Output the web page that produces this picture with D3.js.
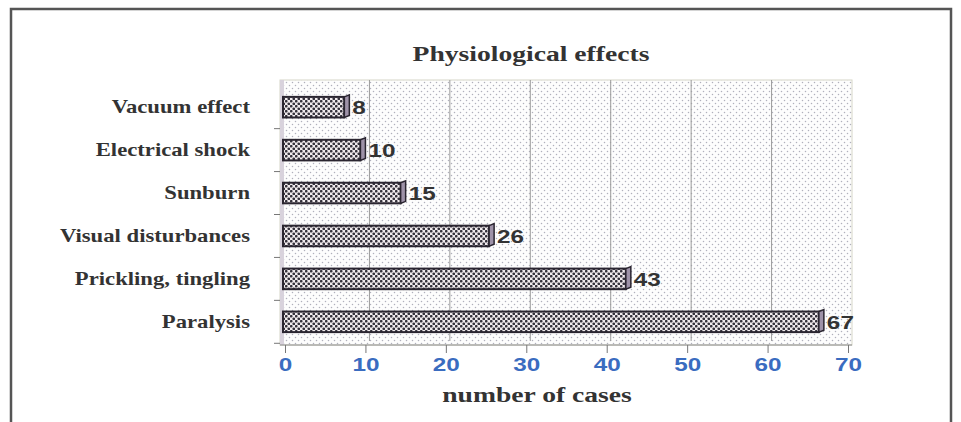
<!DOCTYPE html>
<html lang="en">
<head>
<meta charset="UTF-8">
<title>Physiological effects</title>
<script src="https://d3js.org/d3.v7.min.js"></script>
<style>
  body { margin: 0; background: #fff; }
</style>
</head>
<body>
<script>
// data
var categories = ["Vacuum effect", "Electrical shock", "Sunburn", "Visual disturbances", "Prickling, tingling", "Paralysis"];
var cases = [8, 10, 15, 26, 43, 67];
var xTicks = [0, 10, 20, 30, 40, 50, 60, 70];

var W = 961, H = 422;
var svg = d3.select("body").append("svg")
    .attr("width", W)
    .attr("height", H);

var defs = svg.append("defs");

// dotted background of the plot area
var bgPat = defs.append("pattern")
    .attr("id", "bgdots")
    .attr("width", 6).attr("height", 6)
    .attr("patternUnits", "userSpaceOnUse");
bgPat.append("rect").attr("width", 6).attr("height", 6).attr("fill", "#fdfdfd");
bgPat.append("circle").attr("cx", 1.5).attr("cy", 1.5).attr("r", 0.75).attr("fill", "#b0b0bc");
bgPat.append("circle").attr("cx", 4.5).attr("cy", 4.5).attr("r", 0.75).attr("fill", "#b0b0bc");

// dense dotted fill of the bars
var barPat = defs.append("pattern")
    .attr("id", "bardots")
    .attr("width", 5).attr("height", 5)
    .attr("patternUnits", "userSpaceOnUse");
barPat.append("rect").attr("width", 5).attr("height", 5).attr("fill", "#f1ebee");
barPat.append("circle").attr("cx", 1.25).attr("cy", 1.25).attr("r", 1.35).attr("fill", "#35323c");
barPat.append("circle").attr("cx", 3.75).attr("cy", 3.75).attr("r", 1.35).attr("fill", "#35323c");

// outer frame of the scanned page
svg.append("path")
    .attr("d", "M11," + H + "V9H951V" + H)
    .attr("fill", "none")
    .attr("stroke", "#555")
    .attr("stroke-width", 2.5);

var plot = { left: 285, right: 848, top: 80, bottom: 345 };

var x = d3.scaleLinear().domain([0, 70]).range([plot.left, plot.right]);
var y = d3.scaleBand().domain(categories)
    .range([plot.top + 4, plot.bottom])
    .paddingInner(0.52).paddingOuter(0.3);

var serif = "'Liberation Serif', 'Times New Roman', serif";
var sans = "'Liberation Sans', Arial, sans-serif";

// plot wall
svg.append("rect")
    .attr("x", plot.left - 5).attr("y", plot.top)
    .attr("width", plot.right - plot.left + 9)
    .attr("height", plot.bottom - plot.top)
    .attr("fill", "url(#bgdots)")
    .attr("stroke", "#d6d6c8")
    .attr("stroke-width", 1);

// left side wall strip
svg.append("rect")
    .attr("x", plot.left - 5).attr("y", plot.top)
    .attr("width", 4).attr("height", plot.bottom - plot.top)
    .attr("fill", "#d8d2dc");

// vertical gridlines
svg.selectAll(".grid")
    .data(xTicks.slice(1, -1))
    .enter().append("line")
    .attr("class", "grid")
    .attr("x1", d => x(d) + 4).attr("x2", d => x(d) + 4)
    .attr("y1", plot.top).attr("y2", plot.bottom - 4)
    .attr("stroke", "#9a9a9a")
    .attr("stroke-width", 1);

// floor line
svg.append("line")
    .attr("x1", plot.left - 5).attr("x2", plot.right + 4)
    .attr("y1", plot.bottom).attr("y2", plot.bottom)
    .attr("stroke", "#8a8a8a");

// x axis (the scan stretches the type sideways, so the labels are scaled in x)
var xAxis = svg.append("g")
    .attr("transform", "translate(0," + plot.bottom + ")")
    .call(d3.axisBottom(x).tickValues(xTicks).tickSize(8).tickPadding(5));
xAxis.select(".domain").remove();
xAxis.selectAll(".tick line").attr("stroke", "#777");
xAxis.selectAll("text")
    .attr("font-family", sans)
    .attr("font-weight", "bold")
    .attr("font-size", 18)
    .attr("transform", "scale(1.35,1)")
    .attr("fill", "#3a6cc0");

// y axis tick marks between categories
var ySep = categories.map((c, i) => y(c) + y.bandwidth() + y.step() * y.paddingInner() / 2);
svg.selectAll(".ytick")
    .data(ySep)
    .enter().append("line")
    .attr("x1", plot.left - 11).attr("x2", plot.left - 5)
    .attr("y1", d => d).attr("y2", d => d)
    .attr("stroke", "#777");

// category labels
svg.selectAll(".cat")
    .data(categories)
    .enter().append("text")
    .attr("transform", d => "translate(250," + (y(d) + y.bandwidth() / 2 + 6) + ") scale(1.26,1)")
    .attr("text-anchor", "end")
    .attr("font-family", serif)
    .attr("font-weight", "bold")
    .attr("font-size", 18)
    .attr("fill", "#333")
    .text(d => d);

// bars with a 3D end cap
var depth = 5;
var bars = svg.selectAll(".bar")
    .data(categories.map((c, i) => ({ c: c, v: cases[i] })))
    .enter().append("g");

bars.append("rect")
    .attr("x", x(0) - 2)
    .attr("y", d => y(d.c))
    .attr("width", d => x(d.v) - x(0) - depth + 2)
    .attr("height", y.bandwidth())
    .attr("fill", "url(#bardots)")
    .attr("stroke", "#2a2530")
    .attr("stroke-width", 2);

bars.append("path")
    .attr("d", d => {
        var x0 = x(d.v) - depth, y0 = y(d.c), h = y.bandwidth();
        return "M" + x0 + "," + y0 + "L" + (x0 + depth) + "," + (y0 - 2) +
            "V" + (y0 + h - 2) + "L" + x0 + "," + (y0 + h) + "Z";
    })
    .attr("fill", "#9e92a8")
    .attr("stroke", "#2a2530")
    .attr("stroke-width", 1.5);

// value labels
bars.append("text")
    .attr("transform", d => "translate(" + (x(d.v) + 3) + "," + (y(d.c) + y.bandwidth() / 2 + 7) + ") scale(1.35,1)")
    .attr("font-family", sans)
    .attr("font-weight", "bold")
    .attr("font-size", 18)
    .attr("fill", "#333")
    .text(d => d.v);

// title
svg.append("text")
    .attr("transform", "translate(531,61) scale(1.38,1)")
    .attr("text-anchor", "middle")
    .attr("font-family", serif)
    .attr("font-weight", "bold")
    .attr("font-size", 20)
    .attr("fill", "#333")
    .text("Physiological effects");

// axis title
svg.append("text")
    .attr("transform", "translate(537,402) scale(1.38,1)")
    .attr("text-anchor", "middle")
    .attr("font-family", serif)
    .attr("font-weight", "bold")
    .attr("font-size", 20)
    .attr("fill", "#333")
    .text("number of cases");
</script>
</body>
</html>
